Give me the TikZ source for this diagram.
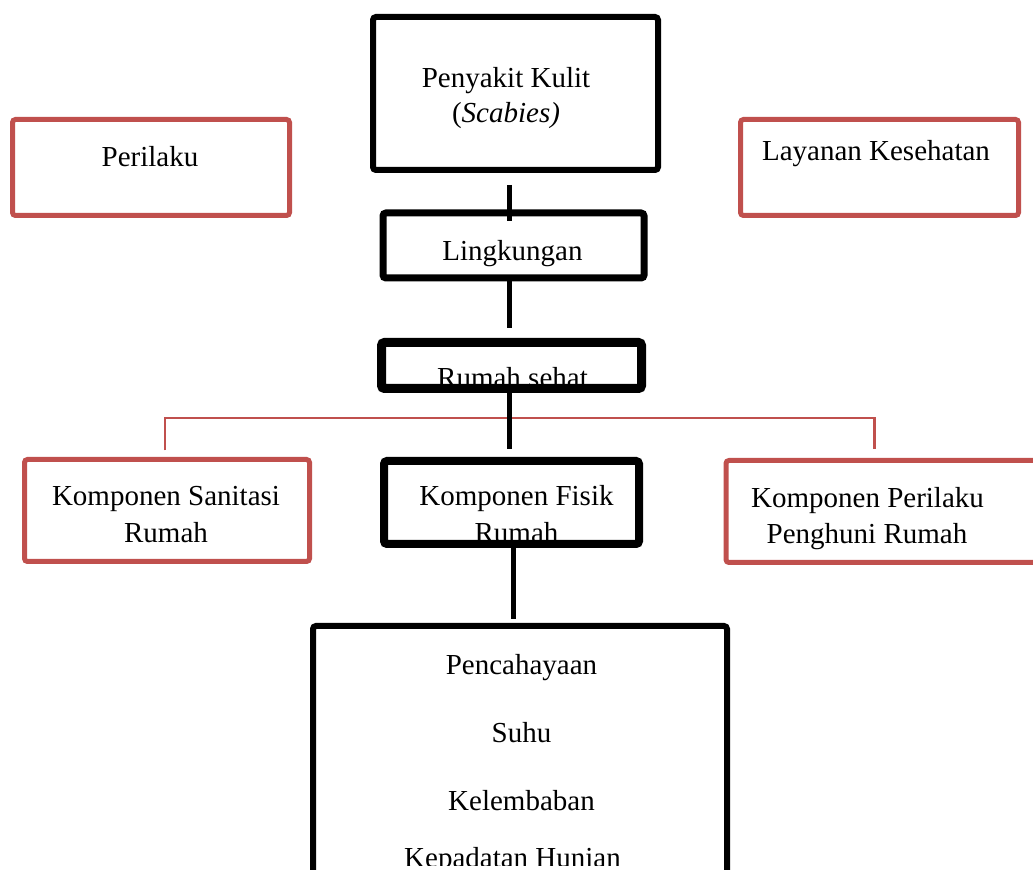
\documentclass[tikz,border=0pt]{standalone}
\usepackage{fontspec}
\setmainfont{Liberation Serif}
\usetikzlibrary{calc}
\definecolor{boxred}{HTML}{C0504D}
\tikzset{
  blackbox/.style={draw=black, rectangle, rounded corners=1.5pt, inner sep=0pt, line width=3pt},
  redbox/.style={draw=boxred, rectangle, rounded corners=1.5pt, inner sep=0pt, line width=2.5pt},
  txt/.style={inner sep=0pt, anchor=base, font=\fontsize{14.5}{17}\selectfont},
  conn/.style={draw=black, line width=2.5pt},
  redline/.style={draw=boxred, line width=1.3pt},
}
\begin{document}
\begin{tikzpicture}[x=0.5pt, y=-0.5pt]
\useasboundingbox (0,0) rectangle (1033,870);
\clip (0,0) rectangle (1033,870);
\coordinate (rj) at (509,418);
% boxes
\node[blackbox, minimum width=142.5pt, minimum height=76.5pt] (pk) at (515.5,93.5) {};
\node[redbox, minimum width=138.5pt, minimum height=48pt] (per) at (151,167.5) {};
\node[redbox, minimum width=139pt, minimum height=48pt] (lay) at (879.5,167.5) {};
\node[blackbox, line width=3.5pt, minimum width=130.5pt, minimum height=32.5pt] (lk) at (513.5,245.5) {};
\node[blackbox, line width=4.5pt, minimum width=130pt, minimum height=23pt] (rs) at (511.5,365.5) {};
\node[redbox, minimum width=142.5pt, minimum height=51pt] (san) at (167,510.5) {};
\node[blackbox, line width=4pt, minimum width=127.5pt, minimum height=41.5pt] (fis) at (511.5,502.5) {};
\node[redbox, minimum width=157pt, minimum height=51pt] (prl) at (883,511.5) {};
\node[blackbox, minimum width=207pt, minimum height=137pt] (big) at (520,763) {};
% red connector
\draw[redline] ([shift={(-2,-6.5)}]san.north) |- (rj) -| ([shift={(-8.5,-8.5)}]prl.north);
% black connectors
\draw[conn] ([shift={(-6.5,12)}]pk.south) -- ([shift={(-4.5,12)}]lk.north);
\draw[conn] ([shift={(-4.5,0)}]lk.south) -- ([shift={(-2.5,-9.5)}]rs.north);
\draw[conn] ([shift={(-2.5,0)}]rs.south) -- ([shift={(-2.5,-8)}]fis.north);
\draw[conn] ([shift={(1.5,0)}]fis.south) -- ([shift={(-7,-4)}]big.north);
% texts
\node[txt] (t1) at (506,88) {Penyakit Kulit};
\node[txt] (t2) at (506,123) {(\textit{Scabies)}};
\node[txt] (t3) at (150,167) {Perilaku};
\node[txt] (t4) at (876,161) {Layanan Kesehatan};
\node[txt] (t5) at (512.5,261) {Lingkungan};
\begin{scope}
  \clip (380,330) rectangle (646,384);
  \node[txt] (t6) at (512.5,388) {Rumah sehat};
\end{scope}
\node[txt] (t7) at (166,506) {Komponen Sanitasi};
\node[txt] (t8) at (166,543) {Rumah};
\node[txt] (t9) at (516.5,506) {Komponen Fisik};
\begin{scope}
  \clip (385,510) rectangle (640,540);
  \node[txt] (t10) at (516.5,543) {Rumah};
\end{scope}
\node[txt] (t11) at (867.5,508) {Komponen Perilaku};
\node[txt] (t12) at (867,544) {Penghuni Rumah};
\node[txt] (t13) at (521.5,675) {Pencahayaan};
\node[txt] (t14) at (521.5,742) {Suhu};
\node[txt] (t15) at (521.5,810) {Kelembaban};
\begin{scope}
  \clip (315,820) rectangle (725,865);
  \node[txt] (t16) at (512.5,867) {Kepadatan Hunian};
\end{scope}
\end{tikzpicture}
\end{document}
